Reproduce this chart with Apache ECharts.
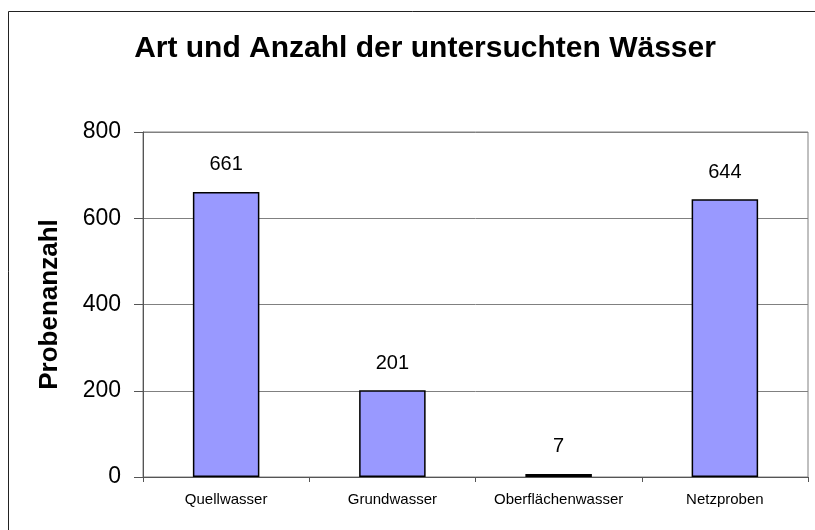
<!DOCTYPE html>
<html>
<head>
<meta charset="utf-8">
<script src="https://cdn.jsdelivr.net/npm/echarts@6/dist/echarts.min.js"></script>
<style>
  html, body { margin: 0; padding: 0; background: #fff; }
  #chart { width: 815px; height: 530px; }
</style>
</head>
<body>
<div id="chart"></div>
<script>
var categories = ['Quellwasser', 'Grundwasser', 'Oberflächenwasser', 'Netzproben'];
var counts = [661, 201, 7, 644];
var yTicks = [0, 200, 400, 600, 800];

var font = "'Liberation Sans', Arial, sans-serif";
var chart = echarts.init(document.getElementById('chart'));

var option = {
    animation: false,
    backgroundColor: '#fff',
    title: {
        text: 'Art und Anzahl der untersuchten Wässer',
        left: 420,
        top: 29,
        textAlign: 'center',
        textStyle: { fontFamily: font, fontSize: 30, fontWeight: 'bold', color: '#000' }
    },
    graphic: [{
        type: 'rect',
        shape: { x: 8.5, y: 11.5, width: 900, height: 600 },
        style: { fill: 'none', stroke: '#222', lineWidth: 1 },
        silent: true
    }],
    grid: {
        left: 143, right: 7, top: 132, bottom: 53,
        show: true, borderColor: '#808080', borderWidth: 1
    },
    xAxis: {
        type: 'category',
        data: categories,
        axisLine: { lineStyle: { color: '#555', width: 1 } },
        axisTick: { show: true, length: 5, lineStyle: { color: '#555' } },
        axisLabel: { interval: 0, fontFamily: font, fontSize: 15, color: '#000', margin: 15 }
    },
    yAxis: {
        type: 'value',
        min: yTicks[0],
        max: yTicks[yTicks.length - 1],
        interval: 200,
        name: 'Probenanzahl',
        nameLocation: 'middle',
        nameGap: 80,
        nameRotate: 90,
        nameTextStyle: { fontFamily: font, fontSize: 26, fontWeight: 'bold', color: '#000' },
        axisLine: { show: true, lineStyle: { color: '#555', width: 1 } },
        axisTick: { show: true, length: 9, lineStyle: { color: '#555' } },
        axisLabel: { fontFamily: font, fontSize: 23, color: '#000', margin: 22 },
        splitLine: { show: true, lineStyle: { color: '#808080', width: 1 } }
    },
    series: [{
        type: 'bar',
        data: counts,
        barWidth: '40%',
        itemStyle: { color: '#9999FF', borderColor: '#000', borderWidth: 1.5 },
        label: {
            show: true,
            position: 'top',
            distance: 17,
            fontFamily: font,
            fontSize: 20,
            color: '#000'
        }
    }]
};

chart.setOption(option);
</script>
</body>
</html>
